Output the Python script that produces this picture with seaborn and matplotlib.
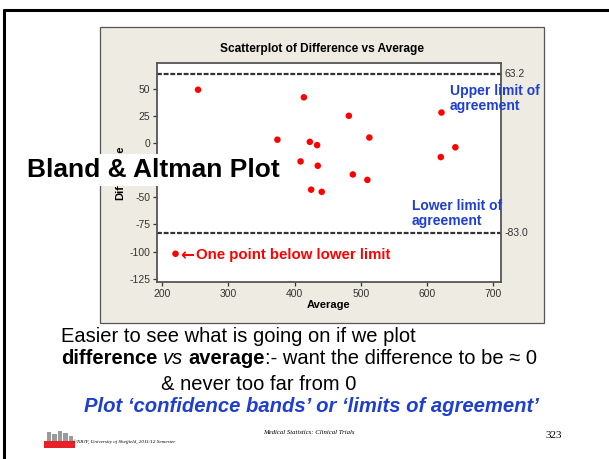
import matplotlib
matplotlib.use("Agg")
import matplotlib.pyplot as plt
from matplotlib.patches import Rectangle
from matplotlib.lines import Line2D
import pandas as pd
import seaborn as sns

# values
average = [254, 414, 482, 622, 374, 423, 434, 513, 643, 621, 409, 435, 488, 510, 425, 441, 220]
difference = [49, 42, 25, 28, 3, 1, -2, 5, -4, -13, -17, -21, -29, -34, -43, -45, -102]
upper_limit = 63.2
lower_limit = -83.0
x_ticks = [200, 300, 400, 500, 600, 700]
y_ticks = [-125, -100, -75, -50, -25, 0, 25, 50]
# the -25 label sits under the "Bland & Altman Plot" box on the slide
y_tick_labels = ["-125", "-100", "-75", "-50", "", "0", "25", "50"]

df = pd.DataFrame({"Average": average, "Difference": difference})

sns.set_style("ticks")
plt.rcParams["font.family"] = ["Liberation Sans", "DejaVu Sans"]
plt.rcParams["text.color"] = "black"
plt.rcParams["axes.labelcolor"] = "black"
plt.rcParams["axes.unicode_minus"] = False

W, H = 609, 459
fig = plt.figure(figsize=(W / 100, H / 100), dpi=100)
fig.patch.set_facecolor("white")


def fx(x):
    return x / W


def fy(y):
    return 1 - y / H


blue = "#1f3fd0"
grey_txt = "#333333"

# slide border (top and left)
fig.add_artist(Line2D([fx(4), 1], [fy(9.5), fy(9.5)], color="black", lw=2.2))
fig.add_artist(Line2D([fx(4), fx(4)], [fy(9.5), 0], color="black", lw=2.2))

# minitab graph panel
fig.add_artist(Rectangle((fx(100), fy(323)), (544 - 100) / W, (323 - 27) / H,
                         facecolor="#eeebe2", edgecolor="#555555", lw=0.9, zorder=0))

ax = fig.add_axes([fx(157), fy(282), (501 - 157) / W, (282 - 63) / H])
sns.scatterplot(data=df, x="Average", y="Difference", ax=ax, color="#ff0000",
                s=22, edgecolor="none", zorder=3)
ax.axhline(upper_limit, color="#333333", lw=1.6, ls=(0, (2.2, 0.8)))
ax.axhline(lower_limit, color="#333333", lw=1.6, ls=(0, (2.2, 0.8)))

ax.set_xlim(192, 712)
ax.set_ylim(-128, 73.6)
ax.set_xticks(x_ticks)
ax.set_yticks(y_ticks)
ax.set_yticklabels(y_tick_labels)
ax.tick_params(labelsize=7.5, colors=grey_txt, length=3, width=0.9, pad=2)
for sp in ax.spines.values():
    sp.set_color("#555555")
    sp.set_linewidth(1.3)
ax.set_xlabel("Average", fontsize=8, fontweight="bold", labelpad=1)
ax.set_ylabel("Difference", fontsize=8, fontweight="bold", labelpad=3)

ax.text(1.01, upper_limit, "63.2", transform=ax.get_yaxis_transform(),
        fontsize=7.5, color=grey_txt, va="center", ha="left")
ax.text(1.01, lower_limit, "-83.0", transform=ax.get_yaxis_transform(),
        fontsize=7.5, color=grey_txt, va="center", ha="left")

fig.text(fx(322), fy(49), "Scatterplot of Difference vs Average", fontsize=8.6,
         fontweight="bold", ha="center", va="center")

# annotations
fig.text(fx(450), fy(98.5), "Upper limit of\nagreement", fontsize=10, fontweight="bold",
         color=blue, ha="left", va="center", linespacing=1.05)
fig.text(fx(412), fy(213.5), "Lower limit of\nagreement", fontsize=10, fontweight="bold",
         color=blue, ha="left", va="center", linespacing=1.05)
fig.text(fx(180), fy(255), "\u2190", fontsize=12, fontweight="bold", color="#ff0000",
         ha="left", va="center", family="DejaVu Sans")
fig.text(fx(196), fy(255), "One point below lower limit", fontsize=10.8,
         fontweight="bold", color="#ff0000", ha="left", va="center")

# big title box over the plot
fig.text(fx(27), fy(170), "Bland & Altman Plot", fontsize=19, fontweight="bold",
         ha="left", va="center",
         bbox=dict(boxstyle="square,pad=0.15", facecolor="white", edgecolor="none"))

# slide text below the graph
fig.text(fx(61), fy(336), "Easier to see what is going on if we plot", fontsize=14.5,
         ha="left", va="center")

renderer = fig.canvas.get_renderer()
segments = [("difference", "bold", "normal"), (" ", "normal", "normal"),
            ("vs", "normal", "italic"), (" ", "normal", "normal"),
            ("average", "bold", "normal"),
            (":- want the difference to be \u2248 0", "normal", "normal")]
x0 = fx(61)
for txt, wt, st in segments:
    t = fig.text(x0, fy(359), txt, fontsize=14.5, fontweight=wt, fontstyle=st,
                 ha="left", va="center")
    bb = t.get_window_extent(renderer)
    x0 += bb.width / W

fig.text(fx(161), fy(384), "& never too far from 0", fontsize=14.5, ha="left", va="center")
fig.text(fx(84), fy(407), "Plot \u2018confidence bands\u2019 or \u2018limits of agreement\u2019",
         fontsize=14.6, fontweight="bold", fontstyle="italic", color=blue,
         ha="left", va="center")

# footer
for bx, bw, bh in [(47, 4, 10), (52, 5, 8), (58, 4, 11), (63, 5, 9), (69, 4, 6)]:
    fig.add_artist(Rectangle((fx(bx), fy(442)), bw / W, bh / H, facecolor="#9a9a9a",
                             edgecolor="none"))
fig.add_artist(Rectangle((fx(44), fy(448)), 31 / W, 7 / H, facecolor="#e8202a",
                         edgecolor="none"))
fig.text(fx(73), fy(442), "\u00a9NRJF, University of Sheffield, 2011/12 Semester",
         fontsize=3.7, fontstyle="italic", family="Liberation Serif", ha="left", va="center")
fig.text(fx(263), fy(433), "Medical Statistics: Clinical Trials", fontsize=4.9,
         fontstyle="italic", family="Liberation Serif", ha="left", va="center")
fig.text(fx(546), fy(436), "323", fontsize=8, family="Liberation Serif",
         ha="left", va="center")

fig.savefig("out.png", dpi=100)
